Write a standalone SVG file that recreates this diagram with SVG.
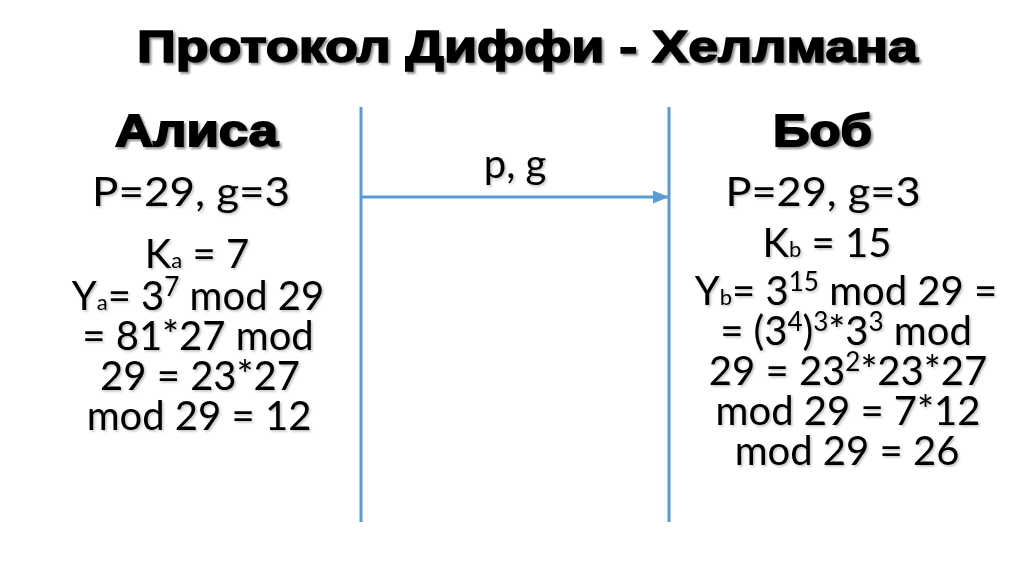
<svg xmlns="http://www.w3.org/2000/svg" width="1024" height="574" viewBox="0 0 1024 574">
<defs>
<filter id="sh" x="-5%" y="-20%" width="110%" height="140%">
<feDropShadow dx="2" dy="2" stdDeviation="1.2" flood-color="#000" flood-opacity="0.45"/>
</filter>
<filter id="sh2" x="-5%" y="-20%" width="110%" height="140%">
<feDropShadow dx="1.5" dy="1.5" stdDeviation="1" flood-color="#000" flood-opacity="0.25"/>
</filter>
<marker id="arr" viewBox="0 0 16 13" refX="16" refY="6.5" markerWidth="16" markerHeight="13" orient="auto" markerUnits="userSpaceOnUse">
<path d="M0,0 L16,6.5 L0,13 z" fill="#5b9bd5"/>
</marker>
</defs>
<style>
.title{font-family:"Liberation Sans",Arial,sans-serif;font-weight:bold;font-size:45px;fill:#000;stroke:#000;stroke-width:1.6px;text-anchor:middle;filter:url(#sh)}
.head{font-family:"Liberation Sans",Arial,sans-serif;font-weight:bold;font-size:45px;fill:#000;stroke:#000;stroke-width:1.8px;text-anchor:middle;filter:url(#sh)}
.t{font-family:Lato,"Open Sans",sans-serif;font-size:40px;fill:#000;text-anchor:middle;filter:url(#sh2)}
.sub{font-size:22px}
.sup{font-size:26px}
.ln{stroke:#5b9bd5;stroke-width:3;fill:none}
</style>
<rect width="1024" height="574" fill="#fff"/>
<g id="title"><text class="title" x="527.5" y="62" textLength="781" lengthAdjust="spacingAndGlyphs">Протокол Диффи - Хеллмана</text></g>
<g id="connectors">
<line class="ln" x1="361" y1="107" x2="361" y2="522"/>
<line class="ln" x1="669" y1="107" x2="669" y2="522"/>
<line class="ln" x1="361" y1="197" x2="669" y2="197" marker-end="url(#arr)"/>
<text class="t" x="515" y="178">p, g</text>
</g>
<g id="alice">
<text class="head" x="196.5" y="146" textLength="163" lengthAdjust="spacingAndGlyphs">Алиса</text>
<text class="t" x="191" y="206" textLength="198" lengthAdjust="spacingAndGlyphs">P=29, g=3</text>
<text class="t" x="197" y="268">K<tspan class="sub">a</tspan> = 7</text>
<text class="t" x="198" y="310">Y<tspan class="sub">a</tspan>= 3<tspan class="sup" dy="-14">7</tspan><tspan dy="14"> mod 29</tspan></text>
<text class="t" x="198" y="350">= 81*27 mod</text>
<text class="t" x="200" y="390">29 = 23*27</text>
<text class="t" x="199" y="430">mod 29 = 12</text>
</g>
<g id="bob">
<text class="head" x="822.5" y="146" textLength="99" lengthAdjust="spacingAndGlyphs">Боб</text>
<text class="t" x="823" y="206" textLength="195" lengthAdjust="spacingAndGlyphs">P=29, g=3</text>
<text class="t" x="827" y="257">K<tspan class="sub">b</tspan> = 15</text>
<text class="t" x="846" y="305">Y<tspan class="sub">b</tspan>= 3<tspan class="sup" dy="-14">15</tspan><tspan dy="14"> mod 29 =</tspan></text>
<text class="t" x="846" y="345">= (3<tspan class="sup" dy="-14">4</tspan><tspan dy="14">)</tspan><tspan class="sup" dy="-14">3</tspan><tspan dy="14">*3</tspan><tspan class="sup" dy="-14">3</tspan><tspan dy="14"> mod</tspan></text>
<text class="t" x="848" y="385">29 = 23<tspan class="sup" dy="-14">2</tspan><tspan dy="14">*23*27</tspan></text>
<text class="t" x="848" y="425">mod 29 = 7*12</text>
<text class="t" x="847" y="465">mod 29 = 26</text>
</g>
</svg>
